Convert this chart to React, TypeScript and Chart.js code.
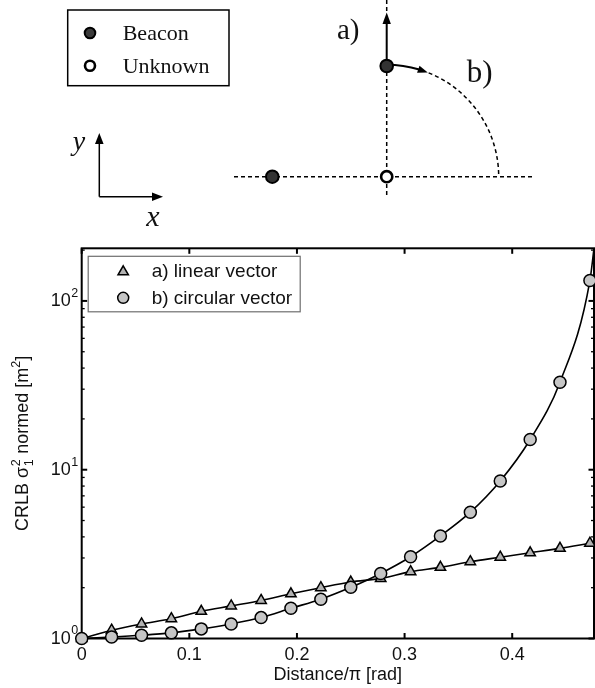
import React, { useEffect, useRef } from 'react';
import { Chart, registerables } from 'chart.js';

Chart.register(...registerables);

// ---------- data ----------
const distance = [0, 0.0278, 0.0556, 0.0833, 0.1111, 0.1389, 0.1667, 0.1944, 0.2222, 0.25, 0.2778, 0.3056, 0.3333, 0.3611, 0.3889, 0.4167, 0.4444, 0.4722];
const linearVector = [1.0, 1.12, 1.22, 1.31, 1.45, 1.56, 1.68, 1.84, 2.0, 2.16, 2.27, 2.49, 2.64, 2.85, 3.03, 3.22, 3.42, 3.67];
const circularVector = [1.0, 1.02, 1.045, 1.08, 1.14, 1.22, 1.33, 1.51, 1.71, 2.01, 2.43, 3.05, 4.05, 5.6, 8.58, 15.1, 33.0, 132];
// the fitted curve of b) leaves the plot at the top-right corner
const circularCurveEnd = [{ x: 0.476, y: 205 }];

const xTicks = [0, 0.1, 0.2, 0.3, 0.4];
const xTickLabels = ['0', '0.1', '0.2', '0.3', '0.4'];
const yDecades = [1, 10, 100];
const yExponents = ['0', '1', '2'];
const yMinorSteps = [2, 3, 4, 5, 6, 7, 8, 9];

const X_MIN = 0;
const X_MAX = 0.476;
const Y_MIN = 1;
const Y_MAX = 205;

const seriesLabels = ['a) linear vector', 'b) circular vector'];

const SANS = '"Liberation Sans", Arial, Helvetica, sans-serif';
const SERIF = '"Liberation Serif", "Times New Roman", Times, serif';

const TRI_FILL = '#b2b2b2';
const CIRC_FILL = '#c6c6c6';

function drawTriangle(ctx: CanvasRenderingContext2D, x: number, y: number, r: number) {
  let rad = 0;
  ctx.beginPath();
  ctx.moveTo(x + Math.sin(rad) * r, y - Math.cos(rad) * r);
  rad += (2 * Math.PI) / 3;
  ctx.lineTo(x + Math.sin(rad) * r, y - Math.cos(rad) * r);
  rad += (2 * Math.PI) / 3;
  ctx.lineTo(x + Math.sin(rad) * r, y - Math.cos(rad) * r);
  ctx.closePath();
  ctx.fillStyle = TRI_FILL;
  ctx.fill();
  ctx.lineWidth = 1.5;
  ctx.strokeStyle = '#000';
  ctx.stroke();
}

function drawCircle(ctx: CanvasRenderingContext2D, x: number, y: number, r: number) {
  ctx.beginPath();
  ctx.arc(x, y, r, 0, Math.PI * 2);
  ctx.fillStyle = CIRC_FILL;
  ctx.fill();
  ctx.lineWidth = 1.5;
  ctx.strokeStyle = '#000';
  ctx.stroke();
}

const framePlugin = {
  id: 'matlabFrame',
  beforeDatasetsDraw(chart: any) {
    const { ctx, chartArea: a, scales } = chart;
    const xs = scales.x;
    const ys = scales.y;
    ctx.save();
    ctx.strokeStyle = '#000';
    ctx.lineWidth = 2;
    ctx.strokeRect(a.left, a.top, a.right - a.left, a.bottom - a.top);
    const seg = (x1: number, y1: number, x2: number, y2: number) => {
      ctx.beginPath();
      ctx.moveTo(x1, y1);
      ctx.lineTo(x2, y2);
      ctx.stroke();
    };
    // x major ticks (inward, bottom and top)
    ctx.lineWidth = 2;
    xTicks.forEach((v) => {
      const px = xs.getPixelForValue(v);
      seg(px, a.bottom, px, a.bottom - 5.5);
      seg(px, a.top, px, a.top + 5.5);
    });
    // y major ticks
    yDecades.forEach((v) => {
      const py = ys.getPixelForValue(v);
      seg(a.left, py, a.left + 5.5, py);
      seg(a.right, py, a.right - 5.5, py);
    });
    // y minor ticks
    ctx.lineWidth = 1.3;
    yDecades.forEach((d) => {
      yMinorSteps.forEach((m) => {
        const v = d * m;
        if (v > Y_MAX) return;
        const py = ys.getPixelForValue(v);
        seg(a.left, py, a.left + 3, py);
        seg(a.right, py, a.right - 3, py);
      });
    });

    // y tick labels 10^k
    ctx.fillStyle = '#111';
    yDecades.forEach((v, i) => {
      const py = ys.getPixelForValue(v);
      ctx.font = `12.5px ${SANS}`;
      const ew = ctx.measureText(yExponents[i]).width;
      const expRight = a.left - 3.5;
      ctx.textAlign = 'left';
      ctx.textBaseline = 'middle';
      ctx.fillText(yExponents[i], expRight - ew, py - 7.5);
      ctx.font = `18px ${SANS}`;
      ctx.textAlign = 'right';
      ctx.fillText('10', expRight - ew - 0.5, py + 0.5);
    });

    // y axis title
    ctx.save();
    ctx.translate(28, (a.top + a.bottom) / 2);
    ctx.rotate(-Math.PI / 2);
    ctx.textBaseline = 'alphabetic';
    ctx.textAlign = 'left';
    const big = `18px ${SANS}`;
    const small = `12.5px ${SANS}`;
    const parts: any[] = [
      { t: 'CRLB σ', f: big, dy: 0 },
      { stack: ['2', '1'] },
      { t: ' normed [m', f: big, dy: 0 },
      { t: '2', f: small, dy: -8 },
      { t: ']', f: big, dy: 0 },
    ];
    let total = 0;
    const widths = parts.map((p) => {
      if (p.stack) {
        ctx.font = small;
        return Math.max(...p.stack.map((s: string) => ctx.measureText(s).width)) + 1;
      }
      ctx.font = p.f;
      return ctx.measureText(p.t).width;
    });
    widths.forEach((w) => (total += w));
    let cx = -total / 2;
    parts.forEach((p, i) => {
      if (p.stack) {
        ctx.font = small;
        ctx.fillText(p.stack[0], cx + 0.5, -8);
        ctx.fillText(p.stack[1], cx + 0.5, 4.5);
      } else {
        ctx.font = p.f;
        ctx.fillText(p.t, cx, p.dy);
      }
      cx += widths[i];
    });
    ctx.restore();

    // x axis title
    ctx.font = `18px ${SANS}`;
    ctx.textAlign = 'center';
    ctx.textBaseline = 'middle';
    ctx.fillText('Distance/π [rad]', (a.left + a.right) / 2, 675);
    ctx.restore();
  },
  afterDatasetsDraw(chart: any) {
    const { ctx, chartArea: a } = chart;
    ctx.save();
    const bx = a.left + 6.5;
    const by = a.top + 8;
    const bw = 212;
    const bh = 55.5;
    ctx.fillStyle = '#fff';
    ctx.fillRect(bx, by, bw, bh);
    ctx.strokeStyle = '#6e6e6e';
    ctx.lineWidth = 1.2;
    ctx.strokeRect(bx, by, bw, bh);
    const mx = bx + 35;
    const rows = [by + 14.5, by + 41.5];
    drawTriangle(ctx, mx, rows[0] + 1, 6);
    drawCircle(ctx, mx, rows[1], 5.5);
    ctx.fillStyle = '#111';
    ctx.font = `19px ${SANS}`;
    ctx.textAlign = 'left';
    ctx.textBaseline = 'middle';
    ctx.fillText(seriesLabels[0], bx + 63.5, rows[0] + 1);
    ctx.fillText(seriesLabels[1], bx + 63.5, rows[1] + 1);
    ctx.restore();
  },
};

function Diagram() {
  const cx = 386.7;
  const cy = 176.7;
  const r = 112;
  const deg = Math.PI / 180;
  const P = (t: number) => [cx + r * Math.sin(t * deg), cy - r * Math.cos(t * deg)];
  const tipT = 21.5;
  const tip = P(tipT);
  const baseT = tipT - (10 / r) / deg;
  const base = P(baseT);
  const dm = (tipT + baseT) / 2;
  const dirx = Math.cos(dm * deg);
  const diry = Math.sin(dm * deg);
  const hw = 3.8;
  const a1 = [base[0] + diry * hw, base[1] - dirx * hw];
  const a2 = [base[0] - diry * hw, base[1] + dirx * hw];
  const solidEnd = P(baseT + 0.5);
  const start = P(0);
  const dashStart = P(tipT + 0.5);
  const dashEnd = P(90);
  return (
    <svg
      width={595}
      height={240}
      style={{ position: 'absolute', left: 0, top: 0, pointerEvents: 'none' }}
    >
      {/* legend box */}
      <rect x={67.7} y={10} width={161.3} height={75.7} fill="#fff" stroke="#000" strokeWidth={1.5} />
      <circle cx={90} cy={33} r={5.3} fill="#3b3b3b" stroke="#000" strokeWidth={2} />
      <circle cx={90} cy={65.7} r={5} fill="#fff" stroke="#000" strokeWidth={2.6} />
      <text x={122.7} y={40} fontFamily={SERIF} fontSize={22} fill="#111">Beacon</text>
      <text x={122.7} y={72.5} fontFamily={SERIF} fontSize={22} fill="#111">Unknown</text>

      {/* coordinate axes */}
      <line x1={99.3} y1={196.7} x2={99.3} y2={142} stroke="#000" strokeWidth={1.5} />
      <polygon points="99.3,133 95,144 103.6,144" fill="#000" />
      <line x1={99.3} y1={196.7} x2={154} y2={196.7} stroke="#000" strokeWidth={1.5} />
      <polygon points="163,196.7 152,192.4 152,201" fill="#000" />
      <text x={79} y={150} fontFamily={SERIF} fontStyle="italic" fontSize={28} textAnchor="middle" fill="#111">y</text>
      <text x={153} y={226} fontFamily={SERIF} fontStyle="italic" fontSize={30} textAnchor="middle" fill="#111">x</text>

      {/* dashed guide lines */}
      <line x1={cx} y1={0} x2={cx} y2={14} stroke="#000" strokeWidth={1.5} strokeDasharray="4 3" />
      <line x1={cx} y1={72} x2={cx} y2={196} stroke="#000" strokeWidth={1.5} strokeDasharray="4 3" />
      <line x1={234} y1={cy} x2={533} y2={cy} stroke="#000" strokeWidth={1.5} strokeDasharray="4 3" />

      {/* a) linear vector arrow */}
      <line x1={cx} y1={66} x2={cx} y2={23} stroke="#000" strokeWidth={2} />
      <polygon points={`${cx},12.5 ${cx - 4.2},24 ${cx + 4.2},24`} fill="#000" />

      {/* b) circular vector arc */}
      <path
        d={`M ${start[0]} ${start[1]} A ${r} ${r} 0 0 1 ${solidEnd[0]} ${solidEnd[1]}`}
        fill="none"
        stroke="#000"
        strokeWidth={2}
      />
      <polygon points={`${tip[0]},${tip[1]} ${a1[0]},${a1[1]} ${a2[0]},${a2[1]}`} fill="#000" />
      <path
        d={`M ${dashStart[0]} ${dashStart[1]} A ${r} ${r} 0 0 1 ${dashEnd[0]} ${dashEnd[1]}`}
        fill="none"
        stroke="#000"
        strokeWidth={1.5}
        strokeDasharray="4 3"
      />

      {/* nodes */}
      <circle cx={272.3} cy={cy} r={6.3} fill="#333" stroke="#000" strokeWidth={2} />
      <circle cx={cx} cy={66} r={6.3} fill="#333" stroke="#000" strokeWidth={2} />
      <circle cx={cx} cy={cy} r={5.6} fill="#fff" stroke="#000" strokeWidth={2.6} />

      <text x={337} y={39} fontFamily={SERIF} fontSize={29} fill="#111">a)</text>
      <text x={466.7} y={82} fontFamily={SERIF} fontSize={31} fill="#111">b)</text>
    </svg>
  );
}

export default function App() {
  const canvasRef = useRef<HTMLCanvasElement | null>(null);

  useEffect(() => {
    const canvas = canvasRef.current;
    if (!canvas) return;
    const linPts = distance.map((x, i) => ({ x, y: linearVector[i] }));
    const circPts = distance.map((x, i) => ({ x, y: circularVector[i] }));
    const chart = new Chart(canvas, {
      type: 'line',
      data: {
        datasets: [
          {
            label: 'linear curve',
            data: linPts,
            borderColor: '#000',
            borderWidth: 1.6,
            pointRadius: 0,
            cubicInterpolationMode: 'monotone',
            fill: false,
            order: 4,
          } as any,
          {
            label: 'circular curve',
            data: [...circPts, ...circularCurveEnd],
            borderColor: '#000',
            borderWidth: 1.6,
            pointRadius: 0,
            cubicInterpolationMode: 'monotone',
            fill: false,
            order: 3,
          } as any,
          {
            label: seriesLabels[0],
            data: linPts,
            showLine: false,
            pointStyle: 'triangle',
            pointRadius: 6,
            pointBackgroundColor: TRI_FILL,
            pointBorderColor: '#000',
            pointBorderWidth: 1.5,
            clip: false,
            order: 2,
          } as any,
          {
            label: seriesLabels[1],
            data: circPts,
            showLine: false,
            pointStyle: 'circle',
            pointRadius: 6,
            pointBackgroundColor: CIRC_FILL,
            pointBorderColor: '#000',
            pointBorderWidth: 1.5,
            clip: false,
            order: 1,
          } as any,
        ],
      },
      options: {
        animation: false,
        responsive: false,
        maintainAspectRatio: false,
        events: [],
        layout: { autoPadding: false, padding: { top: 248.3, right: 1, left: 0, bottom: 0 } },
        plugins: {
          legend: { display: false },
          tooltip: { enabled: false },
          title: { display: false },
        },
        scales: {
          x: {
            type: 'linear',
            min: X_MIN,
            max: X_MAX,
            grid: { display: false, drawTicks: false },
            border: { display: false },
            afterBuildTicks: (s: any) => {
              s.ticks = xTicks.map((v) => ({ value: v }));
            },
            afterFit: (s: any) => {
              s.height = 49.5;
              s.paddingLeft = 0;
              s.paddingRight = 0;
            },
            ticks: {
              autoSkip: false,
              maxRotation: 0,
              padding: 6,
              color: '#111',
              font: { family: SANS, size: 18 },
              callback: (_v: any, i: number) => xTickLabels[i],
            },
          },
          y: {
            type: 'logarithmic',
            min: Y_MIN,
            max: Y_MAX,
            grid: { display: false, drawTicks: false },
            border: { display: false },
            afterBuildTicks: (s: any) => {
              s.ticks = yDecades.map((v) => ({ value: v }));
            },
            afterFit: (s: any) => {
              s.width = 81.7;
              s.paddingTop = 0;
              s.paddingBottom = 0;
            },
            ticks: { display: false },
          },
        },
      } as any,
      plugins: [framePlugin],
    });
    return () => chart.destroy();
  }, []);

  return (
    <div style={{ position: 'absolute', left: 0, top: 0, width: 595, height: 688, background: '#fff' }}>
      <canvas ref={canvasRef} width={595} height={688} style={{ position: 'absolute', left: 0, top: 0, width: 595, height: 688 }} />
      <Diagram />
    </div>
  );
}
